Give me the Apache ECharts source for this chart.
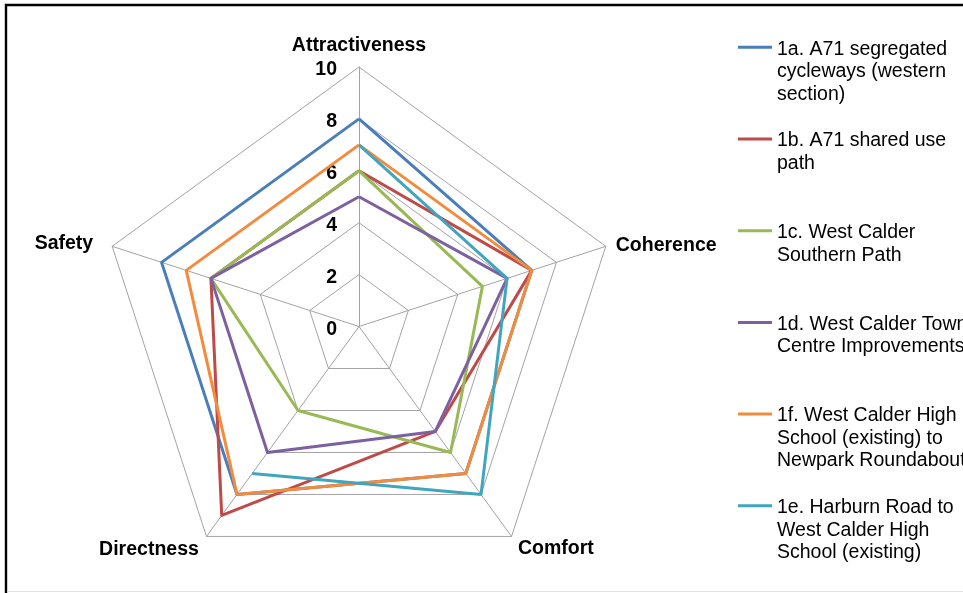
<!DOCTYPE html>
<html>
<head>
<meta charset="utf-8">
<script src="https://cdn.jsdelivr.net/npm/echarts@6/dist/echarts.min.js"></script>
<style>
html,body{margin:0;padding:0;background:#fff;}
#chart{width:963px;height:593px;}
</style>
</head>
<body>
<div id="chart"></div>
<script>
// ---- data (indicators listed clockwise from the top) ----
const indicators = ['Attractiveness', 'Coherence', 'Comfort', 'Directness', 'Safety'];
const axisMax = 10;
const seriesNames = [
  '1a. A71 segregated cycleways (western section)',
  '1b. A71 shared use path',
  '1c. West Calder Southern Path',
  '1d. West Calder Town Centre Improvements',
  '1f. West Calder High School (existing) to Newpark Roundabout',
  '1e. Harburn Road to West Calder High School (existing)'
];
const legendLines = [
  ['1a. A71 segregated', 'cycleways (western', 'section)'],
  ['1b. A71 shared use', 'path'],
  ['1c. West Calder', 'Southern Path'],
  ['1d. West Calder Town', 'Centre Improvements'],
  ['1f. West Calder High', 'School (existing) to', 'Newpark Roundabout'],
  ['1e. Harburn Road to', 'West Calder High', 'School (existing)']
];
const values1a = [8, 7, 7, 8, 8];
const values1b = [6, 7, 5, 9, 6];
const values1c = [6, 5, 6, 4, 6];
const values1d = [5, 6, 5, 6, 6];
const values1f = [7, 7, 7, 8, 7];
const values1e = [7, 6, 8, 7, null]; // no Safety value: line breaks there
const colors = ['#4A7EBB', '#BE4B48', '#98B954', '#7D60A0', '#F38B3C', '#40A6C0'];

// ---- chart ----
const FONT = '"Liberation Sans", Arial, sans-serif';
const cx = 359, cy = 326.5, R = 259.5;
const gridColor = '#A3A3A3';
const nameGaps = [9, 10.5, 11, 13, 20];
// ECharts radar lays indicators out counter-clockwise: map clockwise order onto it
const radarOrder = [0, 4, 3, 2, 1];
const boldTxt = { color: '#000', fontSize: 19.5, fontWeight: 'bold', fontFamily: FONT };

const indicatorOpts = radarOrder.map((i, k) => {
  const o = { name: indicators[i], max: axisMax, min: 0, nameGap: nameGaps[i] };
  if (k === 0) {
    o.axisLabel = {
      show: true, margin: 22,
      color: '#000', fontSize: 19.5, fontWeight: 'bold', fontFamily: FONT,
      formatter: (v) => '{g| }\n{v|' + v + '}',
      rich: { g: { fontSize: 1, lineHeight: 6 }, v: Object.assign({ lineHeight: 22 }, boldTxt) }
    };
  }
  return o;
});

const radarVals = [values1a, values1b, values1c, values1d, values1f];
const series = radarVals.map((v, i) => ({
  type: 'radar',
  name: seriesNames[i],
  color: colors[i],
  symbol: 'none',
  lineStyle: { color: colors[i], width: 3 },
  itemStyle: { color: colors[i] },
  data: [{ name: seriesNames[i], value: radarOrder.map(j => v[j]) }]
}));
series.push({
  type: 'line',
  name: seriesNames[5],
  coordinateSystem: 'polar',
  color: colors[5],
  showSymbol: false,
  symbol: 'none',
  connectNulls: false,
  lineStyle: { color: colors[5], width: 3 },
  itemStyle: { color: colors[5] },
  data: values1e
});

const L = 22.5, G = 4;
const legends = seriesNames.map((name, i) => {
  const lines = legendLines[i];
  const n = lines.length;
  const iconY = 47.3 + i * 91.7;
  const blanks = new Array(n - 1).fill('{b| }');
  const txt = ['{g| }'].concat(blanks, lines).join('\n');
  const h = G + (2 * n - 1) * L;
  return {
    data: [{ name: name, icon: 'rect' }],
    orient: 'vertical',
    left: 738,
    top: iconY - h / 2,
    padding: 0,
    itemWidth: 34,
    itemHeight: 3,
    itemGap: 0,
    selectedMode: false,
    formatter: () => txt,
    textStyle: {
      color: '#000', fontSize: 19.5, lineHeight: L, fontFamily: FONT,
      rich: { g: { fontSize: 1, lineHeight: G }, b: { fontSize: 1, lineHeight: L } }
    }
  };
});

const chart = echarts.init(document.getElementById('chart'), null, { renderer: 'canvas' });
chart.setOption({
  animation: false,
  backgroundColor: '#fff',
  legend: legends,
  radar: {
    center: [cx, cy],
    radius: R,
    startAngle: 90,
    shape: 'polygon',
    splitNumber: 5,
    indicator: indicatorOpts,
    axisName: Object.assign({
      formatter: (name) => '{g| }\n{n|' + name + '}',
      rich: { g: { fontSize: 1, lineHeight: 6 }, n: Object.assign({ lineHeight: 22 }, boldTxt) }
    }, boldTxt),
    axisLabel: { show: false },
    axisTick: { show: false },
    axisLine: { show: true, lineStyle: { color: gridColor, width: 1 } },
    splitLine: { show: true, lineStyle: { color: gridColor, width: 1 } },
    splitArea: { show: false }
  },
  polar: { center: [cx, cy], radius: R },
  angleAxis: {
    type: 'category', data: indicators, startAngle: 90, clockwise: true, boundaryGap: false,
    axisLine: { show: false }, axisTick: { show: false }, axisLabel: { show: false },
    splitLine: { show: false }
  },
  radiusAxis: {
    type: 'value', min: 0, max: axisMax,
    axisLine: { show: false }, axisTick: { show: false }, axisLabel: { show: false },
    splitLine: { show: false }
  },
  graphic: [
    { type: 'rect', shape: { x: 6, y: 5, width: 1200, height: 1200 }, style: { fill: null, stroke: '#000', lineWidth: 2.4 }, silent: true, z: 100 },
    { type: 'line', shape: { x1: 7, y1: 591.5, x2: 963, y2: 591.5 }, style: { stroke: '#E0E0E0', lineWidth: 1 }, silent: true, z: 100 }
  ],
  series: series
});
</script>
</body>
</html>
